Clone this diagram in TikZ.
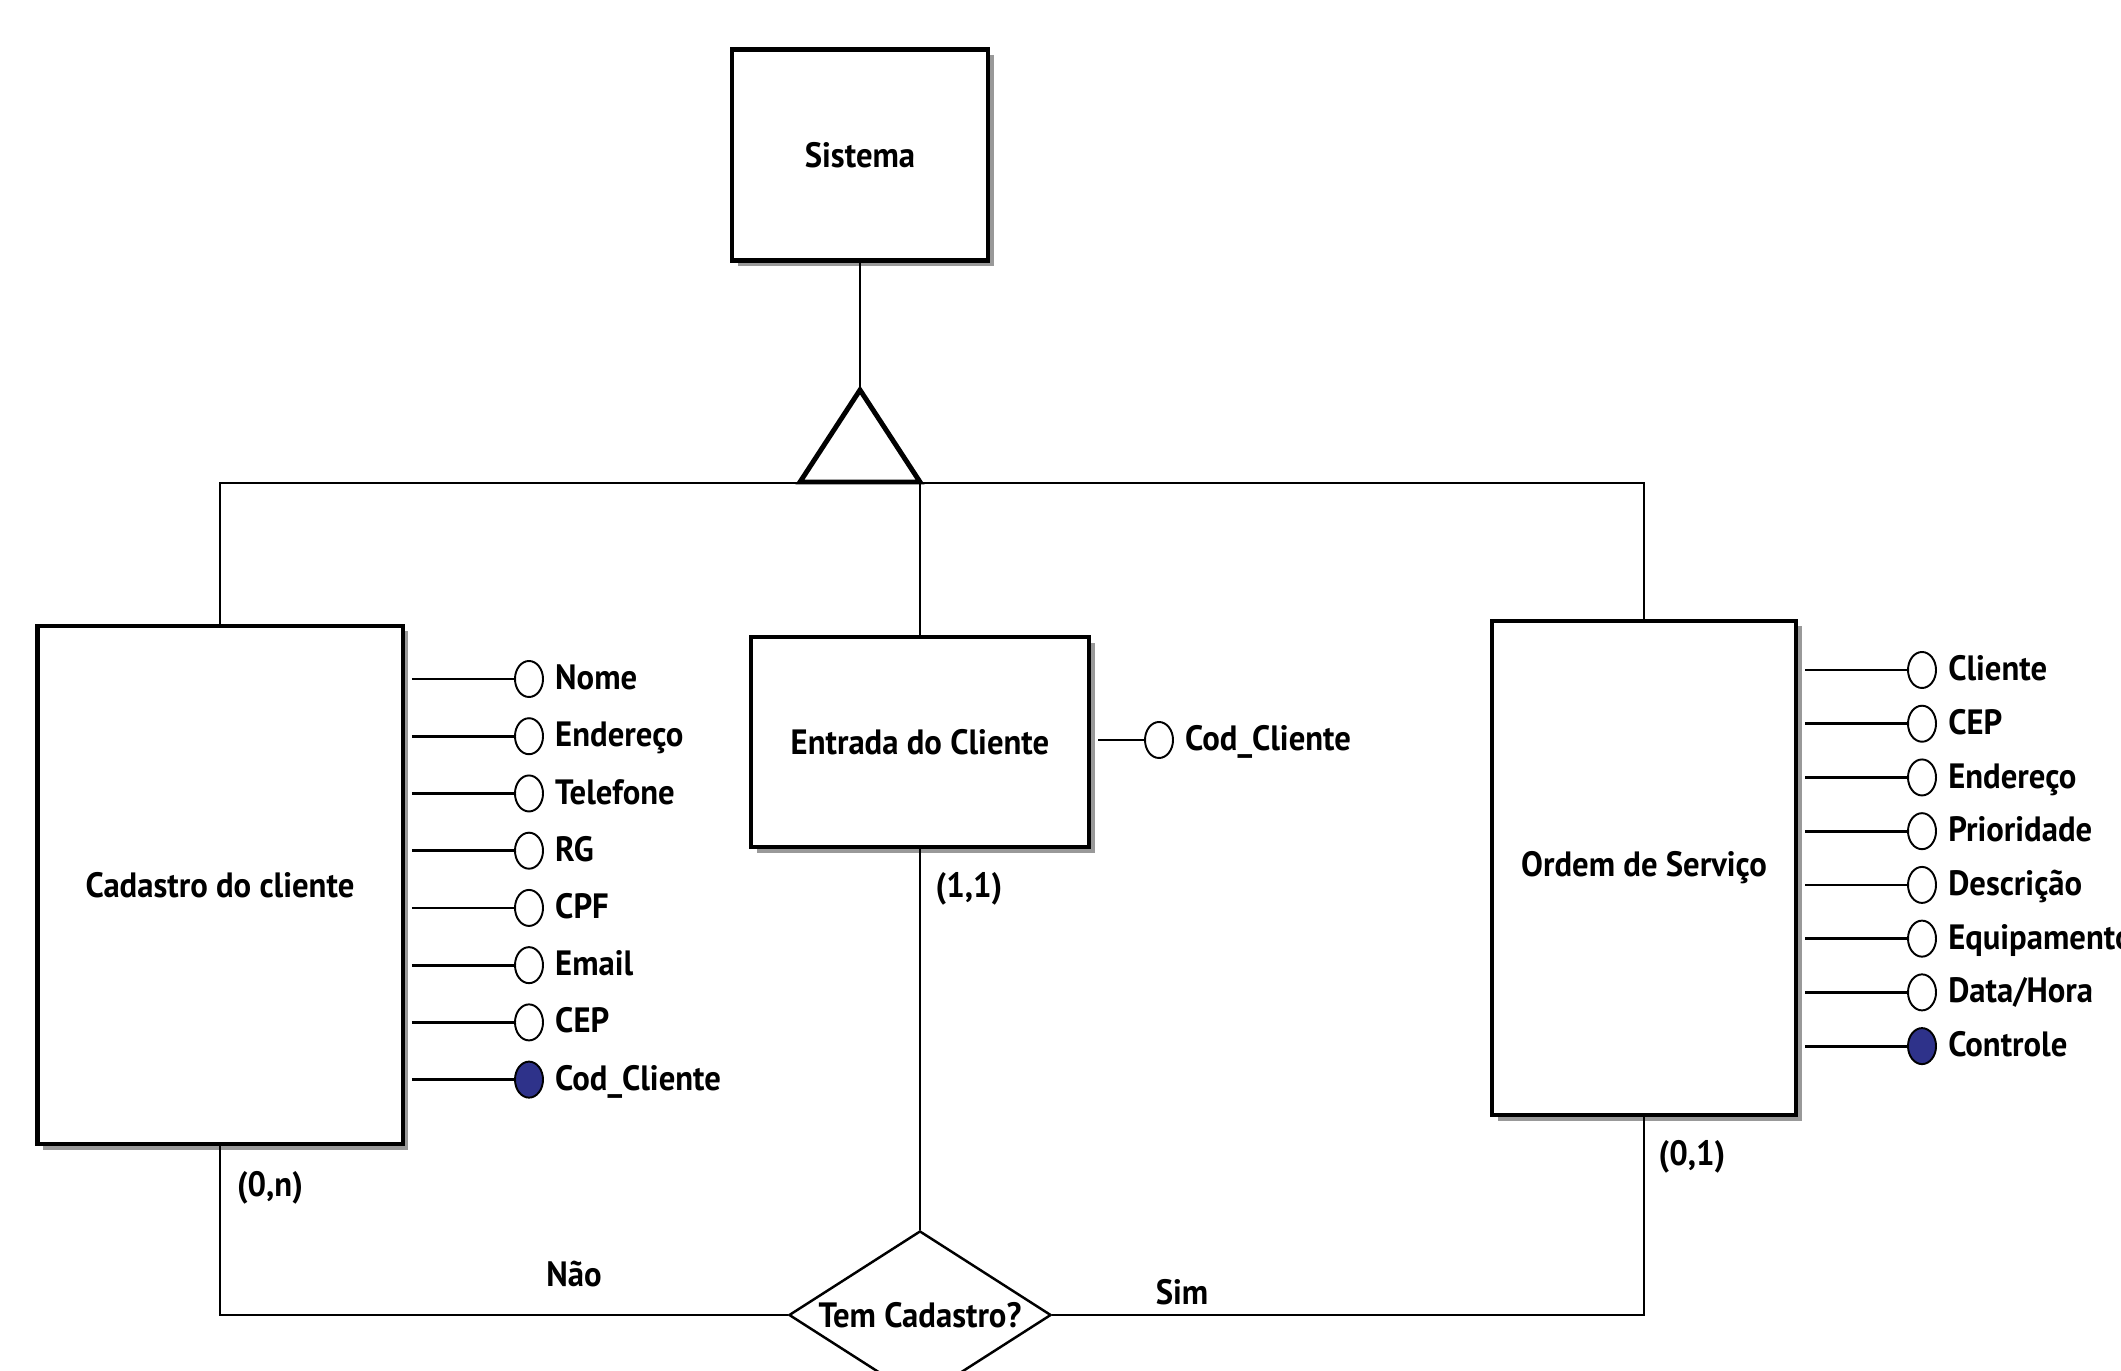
\documentclass[tikz,border=0pt]{standalone}
\usepackage{fontspec}
\setmainfont{PT Sans}[FakeStretch=0.93]
\usepackage{tikz}
\usetikzlibrary{arrows,shapes,backgrounds,positioning,calc,shadows}

\definecolor{keyblue}{RGB}{46,50,138}

\begin{document}
\begin{tikzpicture}[x=0.01cm, y=-0.01cm, node distance=0.572cm, font=\bfseries\fontsize{10}{12}\selectfont]

        \tikzstyle{entity} = [draw, rectangle, line width=1.2pt, fill=white,
                              drop shadow={shadow xshift=1.6pt, shadow yshift=-1.6pt, fill=black!40, opacity=1}]
        \tikzstyle{attr} = [draw, ellipse, line width=0.55pt, minimum width=0.28cm, minimum height=0.36cm, inner sep=0pt, fill=white]
        \tikzstyle{key} = [attr, fill=keyblue]
        \tikzstyle{lbl} = [inner sep=0pt, text height=8pt, text depth=2pt]
        \tikzstyle{card} = [inner sep=0pt]
        \tikzstyle{rel} = [draw, diamond, minimum width=2.62cm, minimum height=1.68cm, inner sep=0pt, line width=0.7pt, fill=white]
        \tikzstyle{link} = [line width=0.8pt]

        \clip (0,0) rectangle (2121,1371);

        % entidades
        \node [entity, minimum width=2.56cm, minimum height=2.11cm] (sis) at (860,155) {Sistema};
        \node [entity, minimum width=3.65cm, minimum height=5.18cm] (cad) at (220,885) {Cadastro do cliente};
        \node [entity, minimum width=3.38cm, minimum height=2.10cm] (ent) at (920,742) {Entrada do Cliente};
        \node [entity, minimum width=3.04cm, minimum height=4.94cm] (ord) at (1644,868) {Ordem de Serviço};

        \node [rel] (tem) at (920,1315) {};
        \node [card] (tem-t) at (tem.center) {Tem Cadastro?};

        % generalizacao
        \coordinate (isa) at (860,390);
        \coordinate (bar) at (860,483);
        \draw [link] (sis.south) -- (isa);
        \draw [line width=1.4pt, line join=miter] (isa) -- ($(isa)+(-60,92)$) -- ($(isa)+(60,92)$) -- cycle;
        \draw [link] (cad.north) |- (bar) -| (ord.north);
        \draw [link] (ent.north) -- (ent.north |- bar);

        % relacionamento
        \draw [link] (ent.south) -- (tem.north);
        \draw [link] (cad.south) |- (tem.west);
        \draw [link] (ord.south) |- (tem.east);

        \node [card] (c-cad) at (270,1188) {(0,n)};
        \node [card] (c-ent) at (969,889) {(1,1)};
        \node [card] (c-ord) at (1692,1157) {(0,1)};
        \node [card] (nao) at (574,1274) {Não};
        \node [card] (sim) at (1182,1292) {Sim};

        % atributos do cadastro
        \node [attr] (a1) at (529,679) {};
        \node [attr, below of=a1] (a2) {};
        \node [attr, below of=a2] (a3) {};
        \node [attr, below of=a3] (a4) {};
        \node [attr, below of=a4] (a5) {};
        \node [attr, below of=a5] (a6) {};
        \node [attr, below of=a6] (a7) {};
        \node [key, below of=a7] (a8) {};

        \node [lbl, right=3pt of a1] (ta1) {Nome};
        \node [lbl, right=3pt of a2] (ta2) {Endereço};
        \node [lbl, right=3pt of a3] (ta3) {Telefone};
        \node [lbl, right=3pt of a4] (ta4) {RG};
        \node [lbl, right=3pt of a5] (ta5) {CPF};
        \node [lbl, right=3pt of a6] (ta6) {Email};
        \node [lbl, right=3pt of a7] (ta7) {CEP};
        \node [lbl, right=3pt of a8] (ta8) {Cod\_Cliente};

        \draw [link, shorten <=2pt] (cad.east |- a1) -- (a1);
        \draw [link, shorten <=2pt] (cad.east |- a2) -- (a2);
        \draw [link, shorten <=2pt] (cad.east |- a3) -- (a3);
        \draw [link, shorten <=2pt] (cad.east |- a4) -- (a4);
        \draw [link, shorten <=2pt] (cad.east |- a5) -- (a5);
        \draw [link, shorten <=2pt] (cad.east |- a6) -- (a6);
        \draw [link, shorten <=2pt] (cad.east |- a7) -- (a7);
        \draw [link, shorten <=2pt] (cad.east |- a8) -- (a8);

        % atributo da entrada
        \node [attr] (e1) at (1159,740) {};
        \node [lbl, right=3pt of e1] (te1) {Cod\_Cliente};
        \draw [link, shorten <=2pt] (ent.east |- e1) -- (e1);

        % atributos da ordem
        \node [attr] (b1) at (1922,670) {};
        \node [attr, below of=b1, node distance=0.537cm] (b2) {};
        \node [attr, below of=b2, node distance=0.537cm] (b3) {};
        \node [attr, below of=b3, node distance=0.537cm] (b4) {};
        \node [attr, below of=b4, node distance=0.537cm] (b5) {};
        \node [attr, below of=b5, node distance=0.537cm] (b6) {};
        \node [attr, below of=b6, node distance=0.537cm] (b7) {};
        \node [key, below of=b7, node distance=0.537cm] (b8) {};

        \node [lbl, right=3pt of b1] (tb1) {Cliente};
        \node [lbl, right=3pt of b2] (tb2) {CEP};
        \node [lbl, right=3pt of b3] (tb3) {Endereço};
        \node [lbl, right=3pt of b4] (tb4) {Prioridade};
        \node [lbl, right=3pt of b5] (tb5) {Descrição};
        \node [lbl, right=3pt of b6] (tb6) {Equipamento};
        \node [lbl, right=3pt of b7] (tb7) {Data/Hora};
        \node [lbl, right=3pt of b8] (tb8) {Controle};

        \draw [link, shorten <=2pt] (ord.east |- b1) -- (b1);
        \draw [link, shorten <=2pt] (ord.east |- b2) -- (b2);
        \draw [link, shorten <=2pt] (ord.east |- b3) -- (b3);
        \draw [link, shorten <=2pt] (ord.east |- b4) -- (b4);
        \draw [link, shorten <=2pt] (ord.east |- b5) -- (b5);
        \draw [link, shorten <=2pt] (ord.east |- b6) -- (b6);
        \draw [link, shorten <=2pt] (ord.east |- b7) -- (b7);
        \draw [link, shorten <=2pt] (ord.east |- b8) -- (b8);

\end{tikzpicture}
\end{document}
